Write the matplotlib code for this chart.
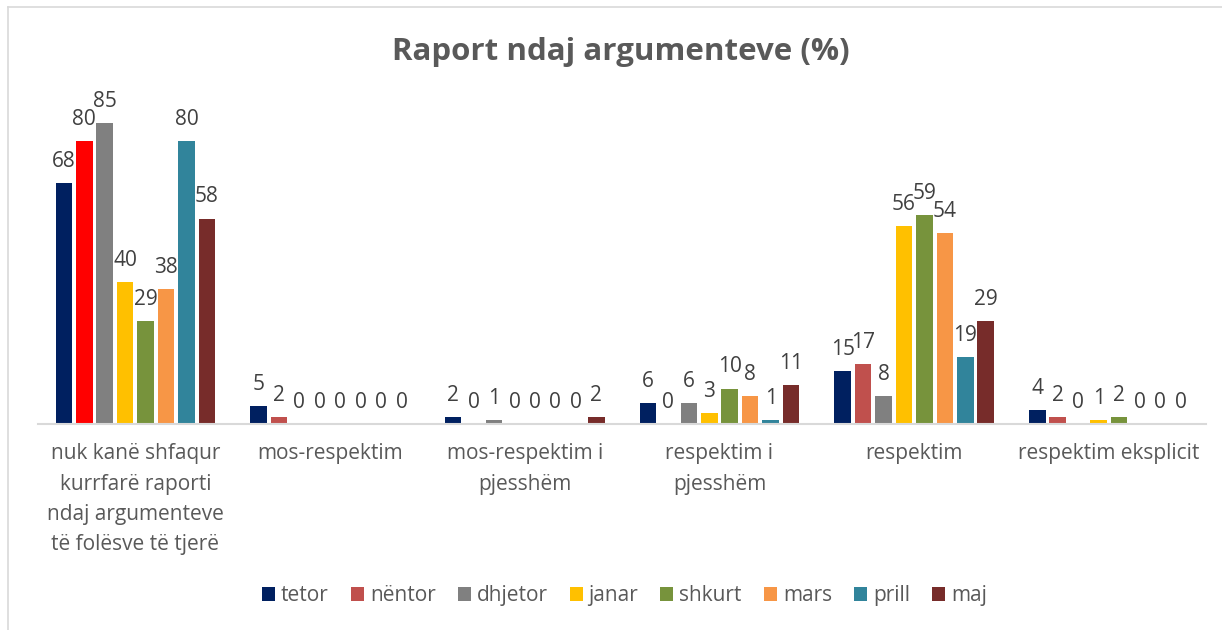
import matplotlib.pyplot as plt
from matplotlib.lines import Line2D
from matplotlib.patches import Patch
import numpy as np

plt.rcParams['font.family'] = ['Open Sans', 'DejaVu Sans']

categories = [
    "nuk kanë shfaqur\nkurrfarë raporti\nndaj argumenteve\ntë folësve të tjerë",
    "mos-respektim",
    "mos-respektim i\npjesshëm",
    "respektim i\npjesshëm",
    "respektim",
    "respektim eksplicit",
]
months = ["tetor", "nëntor", "dhjetor", "janar", "shkurt", "mars", "prill", "maj"]
tetor = [68, 5, 2, 6, 15, 4]
nentor = [80, 2, 0, 0, 17, 2]
dhjetor = [85, 0, 1, 6, 8, 0]
janar = [40, 0, 0, 3, 56, 1]
shkurt = [29, 0, 0, 10, 59, 2]
mars = [38, 0, 0, 8, 54, 0]
prill = [80, 0, 0, 1, 19, 0]
maj = [58, 0, 2, 11, 29, 0]
series = [tetor, nentor, dhjetor, janar, shkurt, mars, prill, maj]
colors = ["#002060", "#C0504D", "#808080", "#FFC000", "#77933C", "#F79646", "#31849B", "#772C2A"]

fig = plt.figure(figsize=(12.22, 6.3), dpi=100)
ax = fig.add_axes([0.0311, 0.327, 0.956, 0.506])

x = np.arange(len(categories))
slot = 0.105
width = 0.085
for i, (vals, col) in enumerate(zip(series, colors)):
    pos = x + (i - 3.5) * slot
    bar_colors = [col] * len(vals)
    if i == 1:
        bar_colors[0] = "#FF0000"  # highlighted point in the original
    ax.bar(pos, vals, width=width, color=bar_colors, edgecolor='none')
    for px, v in zip(pos, vals):
        ax.annotate(str(v), (px, v), xytext=(0, 8), textcoords='offset points',
                    ha='center', va='bottom', fontsize=15, color='#404040')

ax.set_xlim(-0.5, len(categories) - 0.5)
ax.set_ylim(0, 90)
ax.set_yticks([])
ax.set_xticks(x)
ax.set_xticklabels(categories, fontsize=15, color='#595959', linespacing=1.58)
ax.tick_params(axis='x', length=0, pad=14)
for s in ['top', 'right', 'left']:
    ax.spines[s].set_visible(False)
ax.spines['bottom'].set_color('#D9D9D9')
ax.spines['bottom'].set_linewidth(1.5)

fig.text(0.508, 0.917, "Raport ndaj argumenteve (%)", ha='center', va='center',
         fontsize=22.5, fontweight='bold', color='#595959')

handles = [Patch(facecolor=c, label=m) for c, m in zip(colors, months)]
leg = fig.legend(handles=handles, loc='center', bbox_to_anchor=(0.511, 0.054), ncol=8,
                 frameon=False, fontsize=15, handlelength=0.62, handleheight=0.62,
                 handletextpad=0.29, columnspacing=1.06)
for t in leg.get_texts():
    t.set_color('#595959')

# chart frame
fig.add_artist(Line2D([8 / 1222, 1.0], [1 - 7 / 630, 1 - 7 / 630], color='#D9D9D9', lw=1.2))
fig.add_artist(Line2D([8 / 1222, 8 / 1222], [0.0, 1 - 7 / 630], color='#D9D9D9', lw=1.2))

fig.savefig("out.png", dpi=100, facecolor='white')
